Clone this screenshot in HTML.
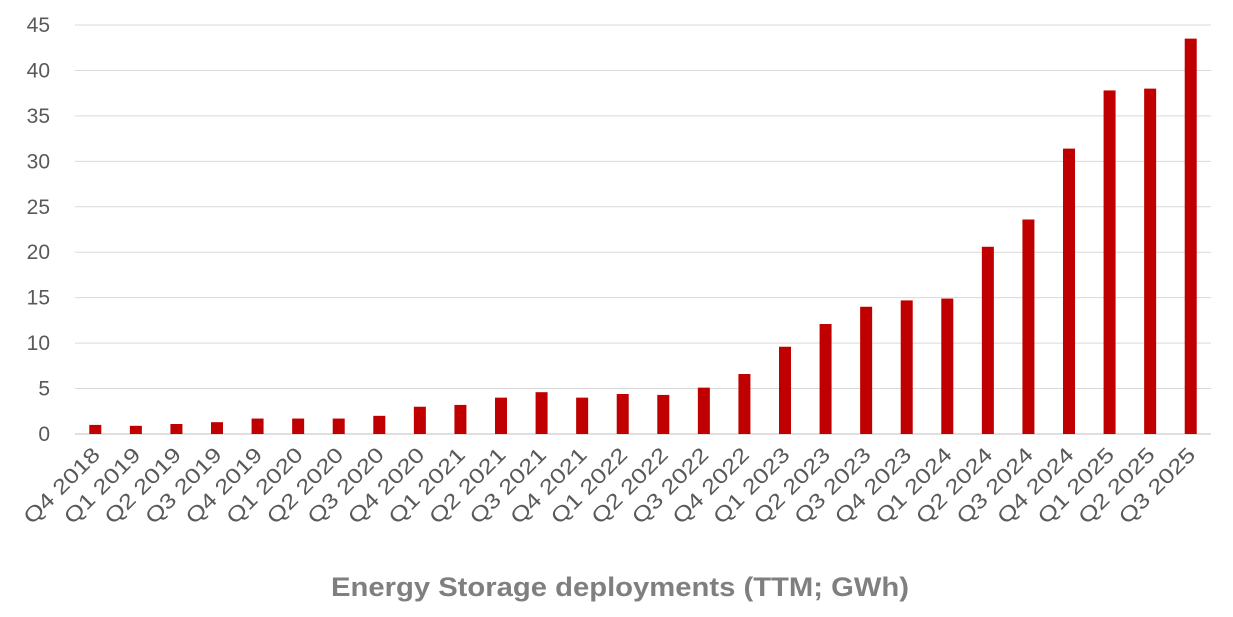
<!DOCTYPE html>
<html><head><meta charset="utf-8"><style>
html,body{margin:0;padding:0;background:#fff;width:1233px;height:617px;overflow:hidden;font-family:"Liberation Sans",sans-serif;}
</style></head><body>
<svg id="chart" width="1233" height="617" xmlns="http://www.w3.org/2000/svg">
<g id="grid"></g>
<g id="yticks"></g>
<g id="bars"></g>
<g id="xticks"></g>
<text x="620" y="596" text-anchor="middle" font-size="27" font-weight="bold" fill="#7f7f7f" textLength="578" lengthAdjust="spacingAndGlyphs">Energy Storage deployments (TTM; GWh)</text>
</svg>
<script>
const categories = ["Q4 2018","Q1 2019","Q2 2019","Q3 2019","Q4 2019","Q1 2020","Q2 2020","Q3 2020","Q4 2020","Q1 2021","Q2 2021","Q3 2021","Q4 2021","Q1 2022","Q2 2022","Q3 2022","Q4 2022","Q1 2023","Q2 2023","Q3 2023","Q4 2023","Q1 2024","Q2 2024","Q3 2024","Q4 2024","Q1 2025","Q2 2025","Q3 2025"];
const values = [1.0,0.9,1.1,1.3,1.7,1.7,1.7,2.0,3.0,3.2,4.0,4.6,4.0,4.4,4.3,5.1,6.6,9.6,12.1,14.0,14.7,14.9,20.6,23.6,31.4,37.8,38.0,43.5];
const yTicks = [0,5,10,15,20,25,30,35,40,45];
const NS="http://www.w3.org/2000/svg";
const x0=75,x1=1211,yBase=434,yTop=25,yMax=45;
const y=v=>yBase-(yBase-yTop)*v/yMax;
const step=(x1-x0)/categories.length;
const xc=i=>x0+step*(i+0.5);
function mk(t,a){const e=document.createElementNS(NS,t);for(const k in a)e.setAttribute(k,a[k]);return e;}
const grid=document.getElementById('grid'),yt=document.getElementById('yticks'),bars=document.getElementById('bars'),xt=document.getElementById('xticks');
yTicks.forEach(v=>{
  const l=mk('line',{x1:x0,x2:x1,y1:y(v),y2:y(v),stroke:v===0?'#bfbfbf':'#d9d9d9','stroke-width':1});
  
  
  grid.appendChild(l);
  const t=mk('text',{x:50,y:y(v)+7,'text-anchor':'end','font-size':21,fill:'#595959'});
  t.textContent=v;
  
  
  yt.appendChild(t);
});
values.forEach((v,i)=>{
  const r=mk('rect',{x:xc(i)-6,y:y(v),width:12,height:yBase-y(v),fill:'#c00000'});
  
  
  bars.appendChild(r);
  const cx=xc(i)+6,cy=456;
  const t=mk('text',{x:cx,y:cy,'text-anchor':'end','font-size':21,fill:'#595959',textLength:98,lengthAdjust:'spacingAndGlyphs',transform:`rotate(-45 ${cx} ${cy})`});
  t.textContent=categories[i];
  
  
  xt.appendChild(t);
});
</script>
</body></html>
